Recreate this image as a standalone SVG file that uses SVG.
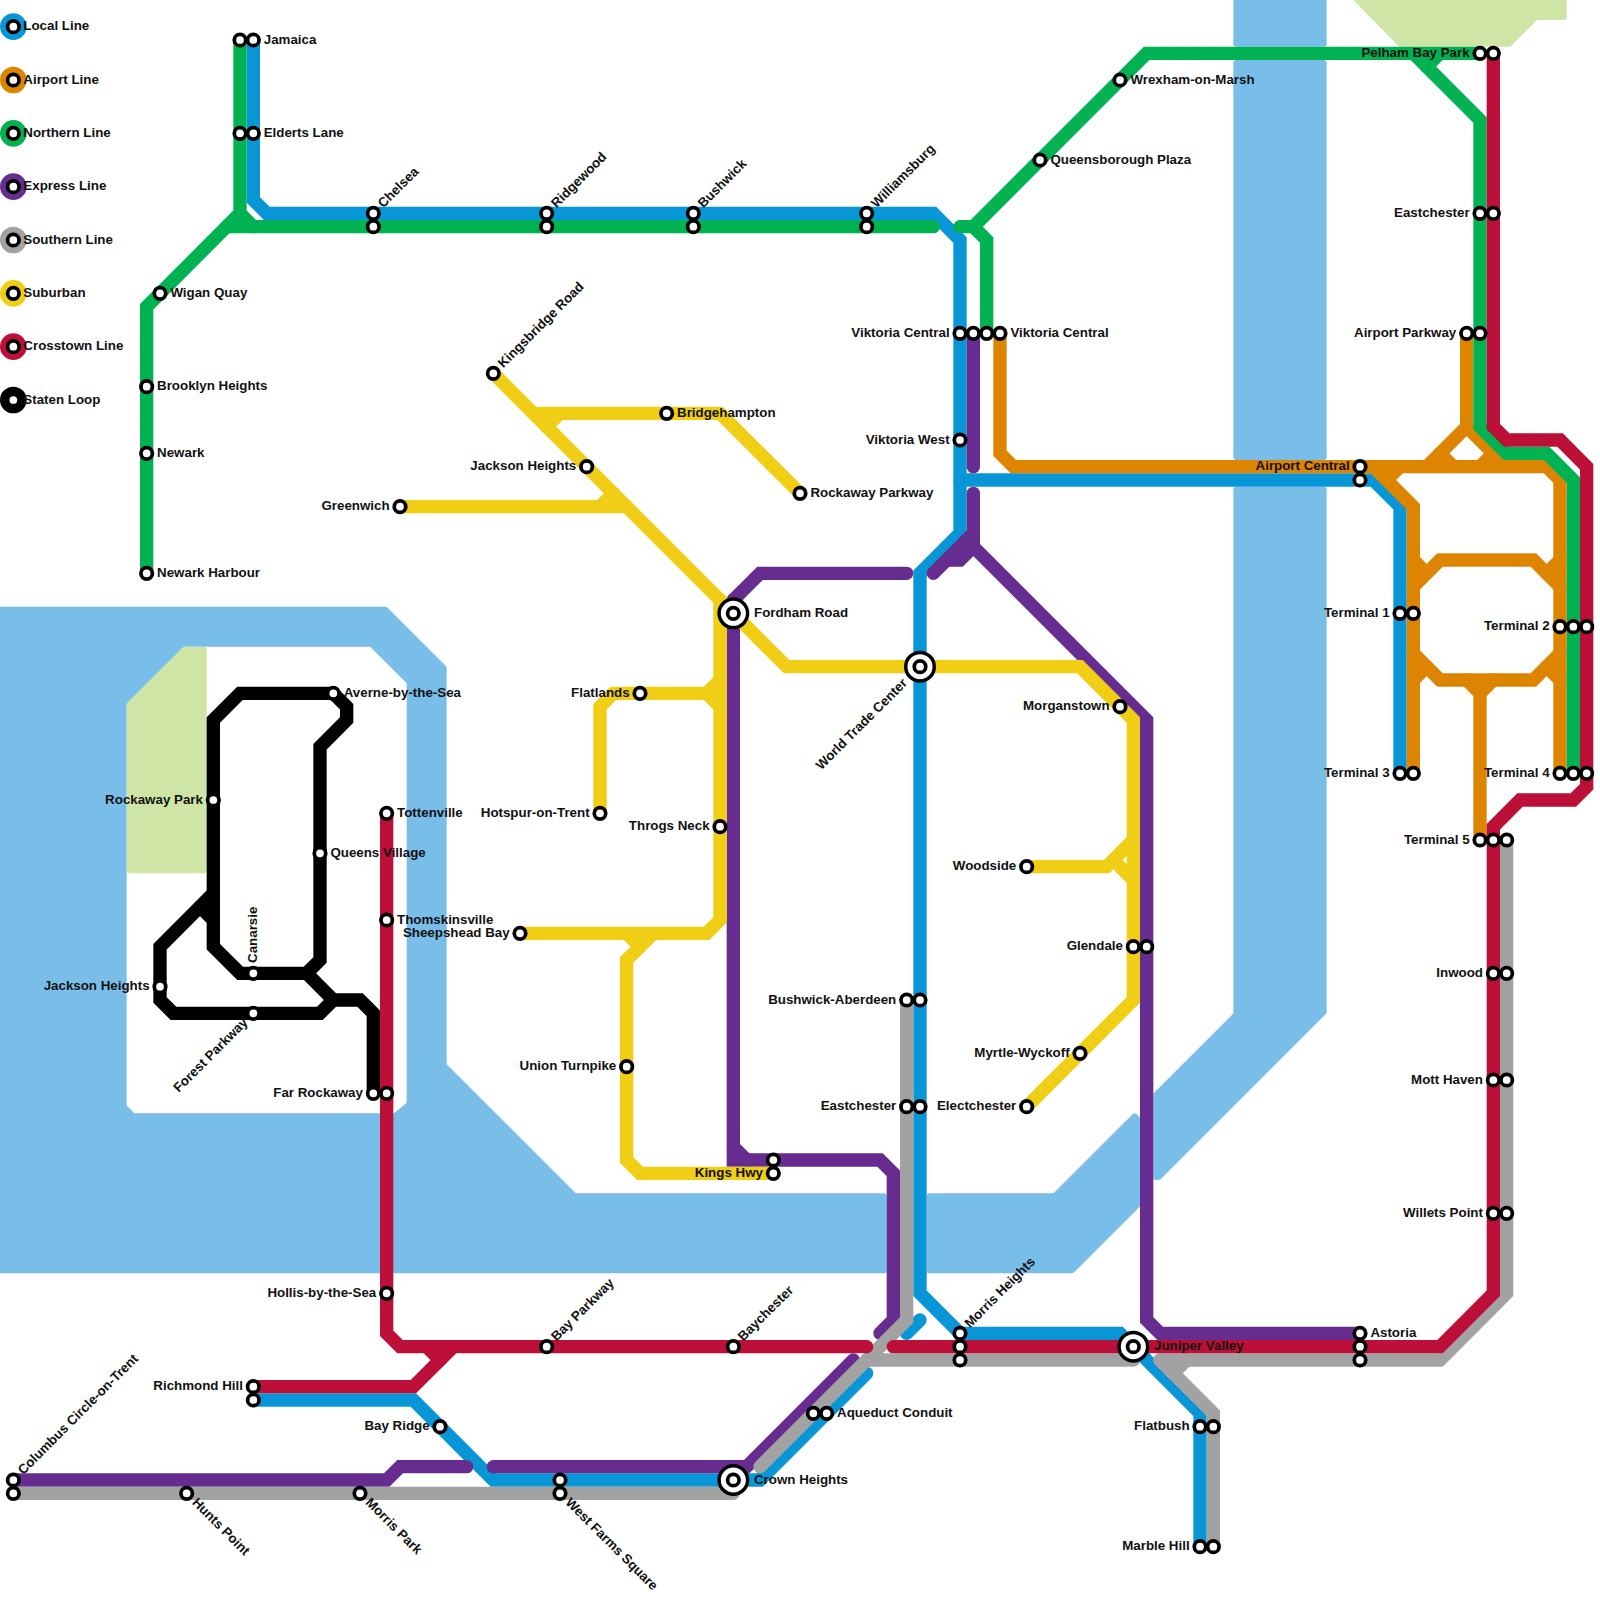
<svg xmlns="http://www.w3.org/2000/svg" width="1600" height="1600" viewBox="0 0 1600 1600">
<style>
text{font-family:"Liberation Sans",Arial,sans-serif;font-weight:700;font-size:1px;fill:#111}
.e{text-anchor:end}
.w{fill:#79bde9;stroke:#79bde9;stroke-width:.4;stroke-linejoin:round;fill-rule:evenodd}
.p{fill:#cfe5a6;stroke:#cfe5a6;stroke-width:.4;stroke-linejoin:round}
.l path{fill:none;stroke-width:1;stroke-linecap:round;stroke-linejoin:miter}
.local{stroke:#0896d7}.airport{stroke:#dd8500}.north{stroke:#00b251}.express{stroke:#662c90}.south{stroke:#a2a2a2}.suburb{stroke:#f0ce15}.cross{stroke:#bd1038}.staten{stroke:#000}
.s{fill:#fff;stroke:#000;stroke-width:.28}
.b{fill:#fff;stroke:#000;stroke-width:.26}
</style>
<rect width="1600" height="1600" fill="#fff"/>
<g transform="scale(13.33333)">
<g id="water">
<path class="w" d="M-1 45.7H28.9L33.3 50.1V79.9L43.1 89.7H66.3V95.3H-1ZM9.3 52.7L13.7 48.3H27.85L30.7 51.15V82.8L29.6 83.7H10L9.3 83Z"/>
<path class="w" d="M69.7 89.7H79.1L85.1 83.7L85.3 83.9V90.4L80.4 95.3H69.7Z"/>
<path class="w" d="M86.7 82.1L92.7 76.1V36.7H99.3V75.9L86.9 88.3H86.7Z"/>
<path class="w" d="M92.7 -1H99.3V3.3H92.7Z"/>
<path class="w" d="M92.7 4.7H99.3V34.3H92.7Z"/>
</g>
<g id="parks">
<path class="p" d="M9.7 52.85L13.85 48.7H15.3V65.3H9.7Z"/>
<path class="p" d="M100.8 -1L105 3.3H113.2L115.2 1.3H117.3V-1Z"/>
</g>
<g id="connectors" class="l">
<g id="line-local">
<path class="local" d="M19 3V15L20 16H70L72 18V40L69 43V97L72 100H84L90 106V116"/>
<path class="local" d="M69 99L68 100"/>
<path class="local" d="M72 36H103L105 38V58"/>
<path class="local" d="M19 105H31L37 111H57L65 103"/>
</g>
<g id="line-airport">
<path class="airport" d="M75 25V34L76 35H116L117 36V58"/>
<path class="airport" d="M102 35H103L106 38V58"/>
<path class="airport" d="M104 36L105 35"/>
<path class="airport" d="M110 25V32L107 35"/>
<path class="airport" d="M110 32L113 35"/>
<path class="airport" d="M108 34L109 35"/>
<path class="airport" d="M111 35L112 34"/>
<path class="airport" d="M106 44L108 42H115L117 44"/>
<path class="airport" d="M106 42L107 43"/>
<path class="airport" d="M117 42L116 43"/>
<path class="airport" d="M106 49L108 51H115L117 49"/>
<path class="airport" d="M106 51L107 50"/>
<path class="airport" d="M117 51L116 50"/>
<path class="airport" d="M111 63V52L110 51"/>
<path class="airport" d="M111 52L112 51"/>
</g>
<g id="line-northern">
<path class="north" d="M18 3V16L11 23V43"/>
<path class="north" d="M18 16L19 17"/>
<path class="north" d="M17 17H70"/>
<path class="north" d="M72 17H73L74 18V25"/>
<path class="north" d="M73 17L86 4H111"/>
<path class="north" d="M106 4L111 9V32L113 34H116L118 36V58"/>
<path class="north" d="M107 5L108 4"/>
</g>
<g id="line-express">
<path class="express" d="M1 111H29L30 110H35"/>
<path class="express" d="M37 110H56L64 102"/>
<path class="express" d="M55 45V87H66L67 88V99L66 100" stroke-linejoin="round"/>
<path class="express" d="M55 86L56 87"/>
<path class="express" d="M55 45L57 43H68"/>
<path class="express" d="M73 25V35"/>
<path class="express" d="M73 37V40L70 43"/>
<path class="express" d="M71 42H72L73 41"/>
<path class="express" d="M73 40V41L86 54V99L87 100H102"/>
</g>
<g id="line-southern">
<path class="south" d="M1 112H55"/>
<path class="south" d="M57 110L68 99V75"/>
<path class="south" d="M65 102H85"/>
<path class="south" d="M87 102H108L113 97V63"/>
<path class="south" d="M87 102L91 106V116"/>
<path class="south" d="M88 103L89 102"/>
</g>
<g id="line-suburban">
<path class="suburb" d="M37 28L54 45V69L53 70H39"/>
<path class="suburb" d="M54 45L59 50H81L85 54V75L77 83"/>
<path class="suburb" d="M40 31H54L60 37"/>
<path class="suburb" d="M41 32L42 31"/>
<path class="suburb" d="M30 38H47"/>
<path class="suburb" d="M45 38L46 37"/>
<path class="suburb" d="M45 61V53L46 52H53L54 51"/>
<path class="suburb" d="M53 52L54 53"/>
<path class="suburb" d="M77 65H83L85 63"/>
<path class="suburb" d="M84 65L85 66"/>
<path class="suburb" d="M49 70L47 72V87L48 88H58"/>
<path class="suburb" d="M47 70L48 71"/>
</g>
<g id="line-crosstown">
<path class="cross" d="M112 4V32L113 33H117L119 35V59L118 60H114L112 62V97L108 101H67"/>
<path class="cross" d="M29 61V100L30 101H65"/>
<path class="cross" d="M19 104H31L34 101"/>
<path class="cross" d="M32 101L33 102"/>
</g>
<g id="line-staten">
<path class="staten" d="M18 52H25L26 53V54L24 56V72L23 73H18L16 71V54Z"/>
<path class="staten" d="M16 67L12 71V75L13 76H24L25 75H27L28 76V82"/>
<path class="staten" d="M15 68L16 69"/>
<path class="staten" d="M23 73L25 75"/>
</g>
</g>
<g id="legend">
<g id="legend-local"><circle cx="1" cy="2" r="1" fill="#0896d7"/><circle class="s" cx="1" cy="2" r=".43"/><text x="1.75" y="2.27">Local Line</text></g>
<g id="legend-airport"><circle cx="1" cy="6" r="1" fill="#dd8500"/><circle class="s" cx="1" cy="6" r=".43"/><text x="1.75" y="6.27">Airport Line</text></g>
<g id="legend-northern"><circle cx="1" cy="10" r="1" fill="#00b251"/><circle class="s" cx="1" cy="10" r=".43"/><text x="1.75" y="10.27">Northern Line</text></g>
<g id="legend-express"><circle cx="1" cy="14" r="1" fill="#662c90"/><circle class="s" cx="1" cy="14" r=".43"/><text x="1.75" y="14.27">Express Line</text></g>
<g id="legend-southern"><circle cx="1" cy="18" r="1" fill="#a2a2a2"/><circle class="s" cx="1" cy="18" r=".43"/><text x="1.75" y="18.27">Southern Line</text></g>
<g id="legend-suburban"><circle cx="1" cy="22" r="1" fill="#f0ce15"/><circle class="s" cx="1" cy="22" r=".43"/><text x="1.75" y="22.27">Suburban</text></g>
<g id="legend-crosstown"><circle cx="1" cy="26" r="1" fill="#bd1038"/><circle class="s" cx="1" cy="26" r=".43"/><text x="1.75" y="26.27">Crosstown Line</text></g>
<g id="legend-staten"><circle cx="1" cy="30" r="1" fill="#000"/><circle class="s" cx="1" cy="30" r=".43"/><text x="1.75" y="30.27">Staten Loop</text></g>
</g>
<g id="stations">
<g id="jamaica"><circle class="s" cx="18" cy="3" r=".43"/><circle class="s" cx="19" cy="3" r=".43"/><text x="19.78" y="3.27">Jamaica</text></g>
<g id="elderts-lane"><circle class="s" cx="18" cy="10" r=".43"/><circle class="s" cx="19" cy="10" r=".43"/><text x="19.78" y="10.27">Elderts Lane</text></g>
<g id="chelsea"><circle class="s" cx="28" cy="16" r=".43"/><circle class="s" cx="28" cy="17" r=".43"/><text transform="translate(28 16) rotate(-45)" x=".78" y=".27">Chelsea</text></g>
<g id="ridgewood"><circle class="s" cx="41" cy="16" r=".43"/><circle class="s" cx="41" cy="17" r=".43"/><text transform="translate(41 16) rotate(-45)" x=".78" y=".27">Ridgewood</text></g>
<g id="bushwick"><circle class="s" cx="52" cy="16" r=".43"/><circle class="s" cx="52" cy="17" r=".43"/><text transform="translate(52 16) rotate(-45)" x=".78" y=".27">Bushwick</text></g>
<g id="williamsburg"><circle class="s" cx="65" cy="16" r=".43"/><circle class="s" cx="65" cy="17" r=".43"/><text transform="translate(65 16) rotate(-45)" x=".78" y=".27">Williamsburg</text></g>
<g id="wigan-quay"><circle class="s" cx="12" cy="22" r=".43"/><text x="12.78" y="22.27">Wigan Quay</text></g>
<g id="brooklyn-heights"><circle class="s" cx="11" cy="29" r=".43"/><text x="11.78" y="29.27">Brooklyn Heights</text></g>
<g id="newark"><circle class="s" cx="11" cy="34" r=".43"/><text x="11.78" y="34.27">Newark</text></g>
<g id="newark-harbour"><circle class="s" cx="11" cy="43" r=".43"/><text x="11.78" y="43.27">Newark Harbour</text></g>
<g id="kingsbridge-road"><circle class="s" cx="37" cy="28" r=".43"/><text transform="translate(37 28) rotate(-45)" x=".78" y=".27">Kingsbridge Road</text></g>
<g id="jackson-heights-a"><circle class="s" cx="44" cy="35" r=".43"/><text class="e" x="43.22" y="35.27">Jackson Heights</text></g>
<g id="bridgehampton"><circle class="s" cx="50" cy="31" r=".43"/><text x="50.78" y="31.27">Bridgehampton</text></g>
<g id="greenwich"><circle class="s" cx="30" cy="38" r=".43"/><text class="e" x="29.22" y="38.27">Greenwich</text></g>
<g id="rockaway-parkway"><circle class="s" cx="60" cy="37" r=".43"/><text x="60.78" y="37.27">Rockaway Parkway</text></g>
<g id="fordham-road"><circle class="b" cx="55" cy="46" r="1.07"/><circle class="s" cx="55" cy="46" r=".43"/><text x="56.55" y="46.27">Fordham Road</text></g>
<g id="world-trade-center"><circle class="b" cx="69" cy="50" r="1.07"/><circle class="s" cx="69" cy="50" r=".43"/><text class="e" transform="translate(69 50) rotate(-45)" x="-1.55" y=".27">World Trade Center</text></g>
<g id="flatlands"><circle class="s" cx="48" cy="52" r=".43"/><text class="e" x="47.22" y="52.27">Flatlands</text></g>
<g id="hotspur"><circle class="s" cx="45" cy="61" r=".43"/><text class="e" x="44.22" y="61.27">Hotspur-on-Trent</text></g>
<g id="throgs-neck"><circle class="s" cx="54" cy="62" r=".43"/><text class="e" x="53.22" y="62.27">Throgs Neck</text></g>
<g id="sheepshead-bay"><circle class="s" cx="39" cy="70" r=".43"/><text class="e" x="38.22" y="70.27">Sheepshead Bay</text></g>
<g id="union-turnpike"><circle class="s" cx="47" cy="80" r=".43"/><text class="e" x="46.22" y="80.27">Union Turnpike</text></g>
<g id="kings-hwy"><circle class="s" cx="58" cy="87" r=".43"/><circle class="s" cx="58" cy="88" r=".43"/><text class="e" x="57.22" y="88.27">Kings Hwy</text></g>
<g id="viktoria-central"><circle class="s" cx="72" cy="25" r=".43"/><circle class="s" cx="73" cy="25" r=".43"/><circle class="s" cx="74" cy="25" r=".43"/><circle class="s" cx="75" cy="25" r=".43"/><text class="e" x="71.22" y="25.27">Viktoria Central</text><text x="75.78" y="25.27">Viktoria Central</text></g>
<g id="viktoria-west"><circle class="s" cx="72" cy="33" r=".43"/><text class="e" x="71.22" y="33.27">Viktoria West</text></g>
<g id="wrexham"><circle class="s" cx="84" cy="6" r=".43"/><text x="84.78" y="6.27">Wrexham-on-Marsh</text></g>
<g id="queensborough-plaza"><circle class="s" cx="78" cy="12" r=".43"/><text x="78.78" y="12.27">Queensborough Plaza</text></g>
<g id="pelham-bay-park"><circle class="s" cx="111" cy="4" r=".43"/><circle class="s" cx="112" cy="4" r=".43"/><text class="e" x="110.22" y="4.27">Pelham Bay Park</text></g>
<g id="eastchester-a"><circle class="s" cx="111" cy="16" r=".43"/><circle class="s" cx="112" cy="16" r=".43"/><text class="e" x="110.22" y="16.27">Eastchester</text></g>
<g id="airport-parkway"><circle class="s" cx="110" cy="25" r=".43"/><circle class="s" cx="111" cy="25" r=".43"/><text class="e" x="109.22" y="25.27">Airport Parkway</text></g>
<g id="airport-central"><circle class="s" cx="102" cy="35" r=".43"/><circle class="s" cx="102" cy="36" r=".43"/><text class="e" x="101.22" y="35.27">Airport Central</text></g>
<g id="terminal-1"><circle class="s" cx="105" cy="46" r=".43"/><circle class="s" cx="106" cy="46" r=".43"/><text class="e" x="104.22" y="46.27">Terminal 1</text></g>
<g id="terminal-3"><circle class="s" cx="105" cy="58" r=".43"/><circle class="s" cx="106" cy="58" r=".43"/><text class="e" x="104.22" y="58.27">Terminal 3</text></g>
<g id="terminal-2"><circle class="s" cx="117" cy="47" r=".43"/><circle class="s" cx="118" cy="47" r=".43"/><circle class="s" cx="119" cy="47" r=".43"/><text class="e" x="116.22" y="47.27">Terminal 2</text></g>
<g id="terminal-4"><circle class="s" cx="117" cy="58" r=".43"/><circle class="s" cx="118" cy="58" r=".43"/><circle class="s" cx="119" cy="58" r=".43"/><text class="e" x="116.22" y="58.27">Terminal 4</text></g>
<g id="terminal-5"><circle class="s" cx="111" cy="63" r=".43"/><circle class="s" cx="112" cy="63" r=".43"/><circle class="s" cx="113" cy="63" r=".43"/><text class="e" x="110.22" y="63.27">Terminal 5</text></g>
<g id="morganstown"><circle class="s" cx="84" cy="53" r=".43"/><text class="e" x="83.22" y="53.27">Morganstown</text></g>
<g id="woodside"><circle class="s" cx="77" cy="65" r=".43"/><text class="e" x="76.22" y="65.27">Woodside</text></g>
<g id="glendale"><circle class="s" cx="85" cy="71" r=".43"/><circle class="s" cx="86" cy="71" r=".43"/><text class="e" x="84.22" y="71.27">Glendale</text></g>
<g id="myrtle-wyckoff"><circle class="s" cx="81" cy="79" r=".43"/><text class="e" x="80.22" y="79.27">Myrtle-Wyckoff</text></g>
<g id="electchester"><circle class="s" cx="77" cy="83" r=".43"/><text class="e" x="76.22" y="83.27">Electchester</text></g>
<g id="bushwick-aberdeen"><circle class="s" cx="68" cy="75" r=".43"/><circle class="s" cx="69" cy="75" r=".43"/><text class="e" x="67.22" y="75.27">Bushwick-Aberdeen</text></g>
<g id="eastchester-b"><circle class="s" cx="68" cy="83" r=".43"/><circle class="s" cx="69" cy="83" r=".43"/><text class="e" x="67.22" y="83.27">Eastchester</text></g>
<g id="morris-heights"><circle class="s" cx="72" cy="100" r=".43"/><circle class="s" cx="72" cy="101" r=".43"/><circle class="s" cx="72" cy="102" r=".43"/><text transform="translate(72 100) rotate(-45)" x=".78" y=".27">Morris Heights</text></g>
<g id="juniper-valley"><circle class="b" cx="85" cy="101" r="1.07"/><circle class="s" cx="85" cy="101" r=".43"/><text x="86.55" y="101.27">Juniper Valley</text></g>
<g id="astoria"><circle class="s" cx="102" cy="100" r=".43"/><circle class="s" cx="102" cy="101" r=".43"/><circle class="s" cx="102" cy="102" r=".43"/><text x="102.78" y="100.27">Astoria</text></g>
<g id="inwood"><circle class="s" cx="112" cy="73" r=".43"/><circle class="s" cx="113" cy="73" r=".43"/><text class="e" x="111.22" y="73.27">Inwood</text></g>
<g id="mott-haven"><circle class="s" cx="112" cy="81" r=".43"/><circle class="s" cx="113" cy="81" r=".43"/><text class="e" x="111.22" y="81.27">Mott Haven</text></g>
<g id="willets-point"><circle class="s" cx="112" cy="91" r=".43"/><circle class="s" cx="113" cy="91" r=".43"/><text class="e" x="111.22" y="91.27">Willets Point</text></g>
<g id="flatbush"><circle class="s" cx="90" cy="107" r=".43"/><circle class="s" cx="91" cy="107" r=".43"/><text class="e" x="89.22" y="107.27">Flatbush</text></g>
<g id="marble-hill"><circle class="s" cx="90" cy="116" r=".43"/><circle class="s" cx="91" cy="116" r=".43"/><text class="e" x="89.22" y="116.27">Marble Hill</text></g>
<g id="aqueduct-conduit"><circle class="s" cx="61" cy="106" r=".43"/><circle class="s" cx="62" cy="106" r=".43"/><text x="62.78" y="106.27">Aqueduct Conduit</text></g>
<g id="crown-heights"><circle class="b" cx="55" cy="111" r="1.07"/><circle class="s" cx="55" cy="111" r=".43"/><text x="56.55" y="111.27">Crown Heights</text></g>
<g id="west-farms-square"><circle class="s" cx="42" cy="111" r=".43"/><circle class="s" cx="42" cy="112" r=".43"/><text transform="translate(42 112) rotate(45)" x=".78" y=".27">West Farms Square</text></g>
<g id="bay-ridge"><circle class="s" cx="33" cy="107" r=".43"/><text class="e" x="32.22" y="107.27">Bay Ridge</text></g>
<g id="bay-parkway"><circle class="s" cx="41" cy="101" r=".43"/><text transform="translate(41 101) rotate(-45)" x=".78" y=".27">Bay Parkway</text></g>
<g id="baychester"><circle class="s" cx="55" cy="101" r=".43"/><text transform="translate(55 101) rotate(-45)" x=".78" y=".27">Baychester</text></g>
<g id="richmond-hill"><circle class="s" cx="19" cy="104" r=".43"/><circle class="s" cx="19" cy="105" r=".43"/><text class="e" x="18.22" y="104.27">Richmond Hill</text></g>
<g id="hollis-by-the-sea"><circle class="s" cx="29" cy="97" r=".43"/><text class="e" x="28.22" y="97.27">Hollis-by-the-Sea</text></g>
<g id="columbus-circle"><circle class="s" cx="1" cy="111" r=".43"/><circle class="s" cx="1" cy="112" r=".43"/><text transform="translate(1 111) rotate(-45)" x=".78" y=".27">Columbus Circle-on-Trent</text></g>
<g id="hunts-point"><circle class="s" cx="14" cy="112" r=".43"/><text transform="translate(14 112) rotate(45)" x=".78" y=".27">Hunts Point</text></g>
<g id="morris-park"><circle class="s" cx="27" cy="112" r=".43"/><text transform="translate(27 112) rotate(45)" x=".78" y=".27">Morris Park</text></g>
<g id="far-rockaway"><circle class="s" cx="28" cy="82" r=".43"/><circle class="s" cx="29" cy="82" r=".43"/><text class="e" x="27.22" y="82.27">Far Rockaway</text></g>
<g id="tottenville"><circle class="s" cx="29" cy="61" r=".43"/><text x="29.78" y="61.27">Tottenville</text></g>
<g id="thomskinsville"><circle class="s" cx="29" cy="69" r=".43"/><text x="29.78" y="69.27">Thomskinsville</text></g>
<g id="queens-village"><circle class="s" cx="24" cy="64" r=".43"/><text x="24.78" y="64.27">Queens Village</text></g>
<g id="rockaway-park"><circle class="s" cx="16" cy="60" r=".43"/><text class="e" x="15.22" y="60.27">Rockaway Park</text></g>
<g id="averne"><circle class="s" cx="25" cy="52" r=".43"/><text x="25.78" y="52.27">Averne-by-the-Sea</text></g>
<g id="canarsie"><circle class="s" cx="19" cy="73" r=".43"/><text transform="translate(19 73) rotate(-90)" x=".78" y=".27">Canarsie</text></g>
<g id="jackson-heights-b"><circle class="s" cx="12" cy="74" r=".43"/><text class="e" x="11.22" y="74.27">Jackson Heights</text></g>
<g id="forest-parkway"><circle class="s" cx="19" cy="76" r=".43"/><text class="e" transform="translate(19 76) rotate(-45)" x="-.78" y=".27">Forest Parkway</text></g>
</g>
</g>
</svg>
